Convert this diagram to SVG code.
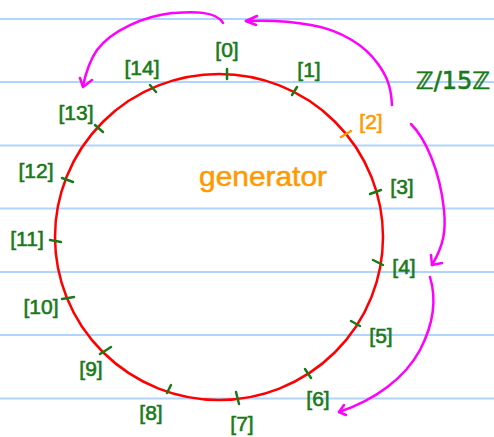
<svg xmlns="http://www.w3.org/2000/svg" width="494" height="437" viewBox="0 0 494 437">
<style>
.rule{stroke:#b0d4fa;stroke-width:2}
.tick{stroke:#1a7a1a;stroke-width:2.5;stroke-linecap:round}
.lbl{font-family:"Liberation Sans",Arial,sans-serif;font-size:21px;fill:#1a7a1a;stroke:#1a7a1a;stroke-width:0.6;text-anchor:middle}
.arc{fill:none;stroke:#ff00ff;stroke-width:2.5;stroke-linecap:round;stroke-linejoin:round}
</style>
<rect width="494" height="437" fill="#ffffff"/>
<g id="paper">
<line class="rule" x1="0" y1="19" x2="494" y2="19"/>
<line class="rule" x1="0" y1="82" x2="494" y2="82"/>
<line class="rule" x1="0" y1="145.5" x2="494" y2="145.5"/>
<line class="rule" x1="0" y1="208.5" x2="494" y2="208.5"/>
<line class="rule" x1="0" y1="272" x2="494" y2="272"/>
<line class="rule" x1="0" y1="335" x2="494" y2="335"/>
<line class="rule" x1="0" y1="398.5" x2="494" y2="398.5"/>
</g>
<g id="circle">
<ellipse cx="219" cy="237" rx="164" ry="163" fill="none" stroke="#ff0000" stroke-width="2.5"/>
</g>
<g id="n0"><line class="tick" x1="227" y1="69" x2="227" y2="79"/><text class="lbl" x="227" y="57">[0]</text></g>
<g id="n1"><line class="tick" x1="292" y1="95" x2="297" y2="87"/><text class="lbl" x="309" y="77">[1]</text></g>
<g id="n2"><line class="tick" x1="341" y1="137" x2="351" y2="131" style="stroke:#ff9900"/><text class="lbl" x="371" y="129" style="fill:#ff9900;stroke:#ff9900">[2]</text></g>
<g id="n3"><line class="tick" x1="370" y1="194" x2="381" y2="190"/><text class="lbl" x="402" y="194">[3]</text></g>
<g id="n4"><line class="tick" x1="373" y1="260" x2="383" y2="265"/><text class="lbl" x="404" y="274">[4]</text></g>
<g id="n5"><line class="tick" x1="351" y1="321" x2="360" y2="326"/><text class="lbl" x="381" y="343">[5]</text></g>
<g id="n6"><line class="tick" x1="305" y1="369" x2="311" y2="378"/><text class="lbl" x="318" y="406">[6]</text></g>
<g id="n7"><line class="tick" x1="236" y1="392" x2="239" y2="404"/><text class="lbl" x="242" y="431">[7]</text></g>
<g id="n8"><line class="tick" x1="167" y1="393" x2="171" y2="385"/><text class="lbl" x="151" y="420">[8]</text></g>
<g id="n9"><line class="tick" x1="100" y1="354" x2="111" y2="347"/><text class="lbl" x="91" y="376">[9]</text></g>
<g id="n10"><line class="tick" x1="62" y1="299" x2="74" y2="297"/><text class="lbl" x="41" y="314">[10]</text></g>
<g id="n11"><line class="tick" x1="50" y1="240" x2="61" y2="242"/><text class="lbl" x="27" y="246">[11]</text></g>
<g id="n12"><line class="tick" x1="62" y1="178" x2="73" y2="182"/><text class="lbl" x="36" y="178">[12]</text></g>
<g id="n13"><line class="tick" x1="95" y1="125" x2="103" y2="132"/><text class="lbl" x="76" y="120">[13]</text></g>
<g id="n14"><line class="tick" x1="150" y1="85" x2="156" y2="92"/><text class="lbl" x="142" y="75">[14]</text></g>
<g id="gen"><text x="263" y="186" font-family="Liberation Sans,Arial,sans-serif" font-size="28" fill="#ff9900" stroke="#ff9900" stroke-width="0.5" text-anchor="middle" textLength="128" lengthAdjust="spacingAndGlyphs">generator</text></g>
<g id="group"><text x="453" y="89" font-family="DejaVu Sans,sans-serif" font-size="24" fill="#1a7a1a" stroke="#1a7a1a" stroke-width="0.6" text-anchor="middle">ℤ/15ℤ</text></g>
<g id="connectors">
<path class="arc" d="M223,23 C216,10 190,12 172,13 C145,16 112,30 97,50 C90,60 86,72 83,86"/>
<path class="arc" d="M80,78 L83,87 L92,80"/>
<path class="arc" d="M392,105 C391,85 386,75 378,64 C365,45 340,30 311,25 C290,21 270,20 246,21"/>
<path class="arc" d="M257,16 L246,21 L256,25"/>
<path class="arc" d="M411,124 C425,138 440,170 444,210 C446,230 444,245 432,265"/>
<path class="arc" d="M431,255 L432,265 L442,263"/>
<path class="arc" d="M430,277 C437,300 433,325 420,350 C405,378 375,400 339,412"/>
<path class="arc" d="M344,405 L339,412 L346,415"/>
</g>
</svg>
